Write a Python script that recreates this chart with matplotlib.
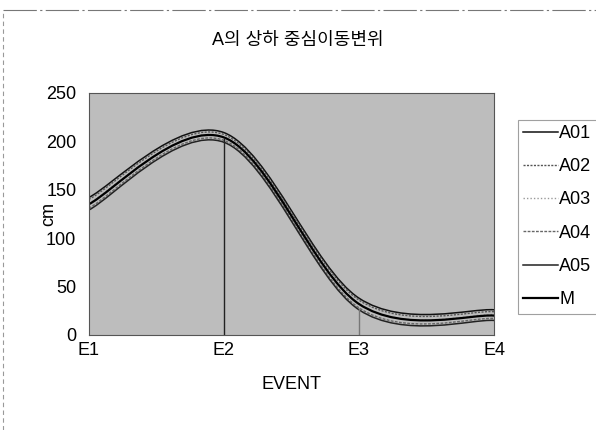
import numpy as np
import matplotlib
matplotlib.use('Agg')
import matplotlib.pyplot as plt
from matplotlib.path import Path
from matplotlib.patches import PathPatch
from matplotlib.lines import Line2D

events = ['E1', 'E2', 'E3', 'E4']
A01 = [142, 209, 38, 26]
A02 = [140, 207, 36, 24]
A03 = [136, 204, 32, 21]
A04 = [131, 201, 28, 17]
A05 = [129, 199, 26, 15]
M = [135, 204, 32, 20]

series = [('A01', A01), ('A02', A02), ('A03', A03), ('A04', A04), ('A05', A05), ('M', M)]
styles = {
    'A01': dict(color='#111111', lw=1.1, ls='-'),
    'A02': dict(color='#555555', lw=1.0, ls=(0, (1.5, 1))),
    'A03': dict(color='#999999', lw=1.0, ls=(0, (1, 1.5))),
    'A04': dict(color='#666666', lw=1.0, ls=(0, (2, 1))),
    'A05': dict(color='#222222', lw=1.1, ls='-'),
    'M': dict(color='#000000', lw=1.6, ls='-'),
}

plt.rcParams['font.family'] = ['Liberation Sans', 'Noto Sans CJK KR']


def smooth_path(xs, ys):
    # excel style smoothed line (catmull-rom as bezier)
    p = np.column_stack([xs, ys]).astype(float)
    p = np.vstack([p[0], p, p[-1]])
    verts = [p[1]]
    codes = [Path.MOVETO]
    for i in range(1, len(p) - 2):
        c1 = p[i] + (p[i + 1] - p[i - 1]) / 6
        c2 = p[i + 1] - (p[i + 2] - p[i]) / 6
        verts += [c1, c2, p[i + 1]]
        codes += [Path.CURVE4] * 3
    return Path(verts, codes)


fig = plt.figure(figsize=(5.96, 4.3), dpi=100)
ax = fig.add_axes([0.149, 0.221, 0.68, 0.563])
ax.set_facecolor('#bdbdbd')

x = np.arange(len(events))
tops = np.max([s for _, s in series], axis=0)
ax.vlines(x[1], 0, tops[1] - 6, color='#222222', lw=1.0)
ax.vlines(x[2], 0, tops[2] - 10, color='#777777', lw=1.0)

for name, vals in series:
    st = styles[name]
    ax.add_patch(PathPatch(smooth_path(x, vals), fill=False, edgecolor=st['color'],
                           lw=st['lw'], ls=st['ls']))

ax.set_xlim(0, 3)
ax.set_ylim(0, 250)
ax.set_xticks(x)
ax.set_xticklabels(events)
ax.set_yticks(np.arange(0, 251, 50))
ax.tick_params(length=0, labelsize=13)
ax.tick_params(axis='x', pad=5)
ax.tick_params(axis='y', pad=9)
for sp in ax.spines.values():
    sp.set_color('#555555')
    sp.set_linewidth(0.8)

ax.set_xlabel('EVENT', fontsize=13, labelpad=12)
ax.set_ylabel('cm', fontsize=13, labelpad=-8)
fig.text(0.5, 0.905, 'A의 상하 중심이동변위', ha='center', va='center', fontsize=13)

handles = [Line2D([], [], **styles[n]) for n, _ in series]
leg = fig.legend(handles, [n for n, _ in series], loc='upper left',
                 bbox_to_anchor=(0.869, 0.722), fontsize=13, frameon=True,
                 fancybox=False, edgecolor='#888888', handlelength=1.9,
                 handletextpad=0.1, labelspacing=0.9, borderpad=0.3,
                 borderaxespad=0)
leg.get_frame().set_linewidth(0.8)

# scanned outer border
fig.add_artist(Line2D([0.005, 1.0], [0.977, 0.977], color='#777777', lw=0.8,
                      ls=(0, (30, 3, 2, 3))))
fig.add_artist(Line2D([0.005, 0.005], [0.0, 0.977], color='#999999', lw=0.8,
                      ls=(0, (4, 3))))

fig.savefig('out.png', dpi=100)
